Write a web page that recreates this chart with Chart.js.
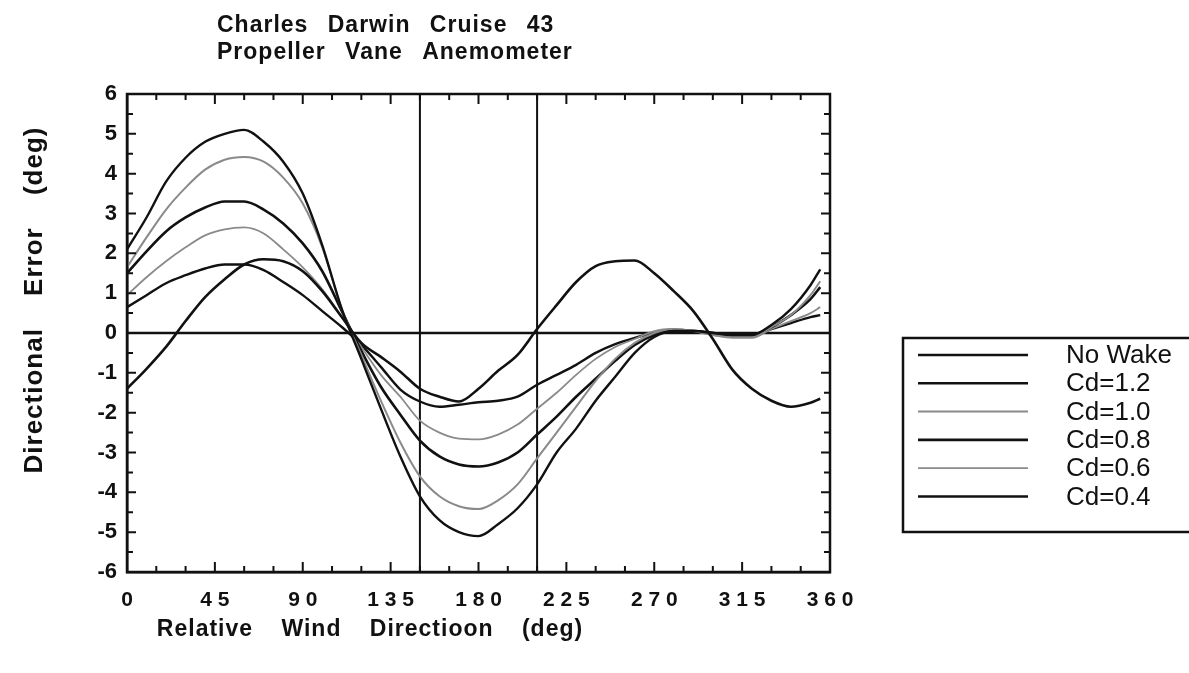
<!DOCTYPE html>
<html>
<head>
<meta charset="utf-8">
<script src="https://cdn.jsdelivr.net/npm/chart.js@4.4.1/dist/chart.umd.min.js"></script>
<style>
  html, body { margin: 0; padding: 0; background: #fff; }
</style>
</head>
<body>
<canvas id="chart" width="1189" height="673"></canvas>
<script>
// relative wind direction (deg)
const directions = [0, 10, 20, 30, 40, 50, 60, 70, 80, 90, 100, 110, 120, 130, 140, 150, 160, 170,
  180, 190, 200, 210, 220, 230, 240, 250, 260, 270, 280, 290, 300, 310, 320, 330, 340, 350, 355];

// directional error (deg)
const noWake = [-1.4, -0.9, -0.35, 0.3, 0.9, 1.35, 1.72, 1.85, 1.8, 1.55, 1.05, 0.4, -0.25, -0.6, -0.97, -1.4, -1.6, -1.72,
  -1.4, -0.95, -0.55, 0.1, 0.7, 1.28, 1.68, 1.8, 1.82, 1.5, 1.05, 0.55, -0.15, -0.92, -1.4, -1.7, -1.85, -1.75, -1.65];
const cd12 = [2.1, 2.9, 3.8, 4.4, 4.8, 5.0, 5.1, 4.8, 4.3, 3.5, 2.2, 0.6, -0.65, -1.9, -3.1, -4.1, -4.7, -5.0,
  -5.1, -4.8, -4.4, -3.8, -3.0, -2.4, -1.7, -1.1, -0.5, -0.1, 0.05, 0.05, 0.0, -0.05, -0.05, 0.2, 0.6, 1.2, 1.6];
const cd10 = [1.65, 2.4, 3.1, 3.65, 4.1, 4.35, 4.42, 4.3, 3.9, 3.25, 2.15, 0.6, -0.55, -1.7, -2.75, -3.6, -4.1, -4.35,
  -4.42, -4.2, -3.8, -3.15, -2.5, -1.85, -1.2, -0.65, -0.25, 0.0, 0.1, 0.05, -0.05, -0.1, -0.1, 0.15, 0.45, 0.95, 1.3];
const cd08 = [1.5, 2.05, 2.55, 2.9, 3.15, 3.3, 3.3, 3.1, 2.75, 2.25, 1.55, 0.55, -0.45, -1.35, -2.05, -2.7, -3.1, -3.3,
  -3.35, -3.25, -3.0, -2.55, -2.1, -1.6, -1.15, -0.7, -0.3, -0.05, 0.05, 0.05, 0.0, -0.05, -0.05, 0.15, 0.45, 0.85, 1.15];
const cd06 = [0.95, 1.4, 1.8, 2.15, 2.45, 2.6, 2.65, 2.5, 2.1, 1.65, 1.1, 0.4, -0.35, -1.05, -1.6, -2.2, -2.5, -2.65,
  -2.67, -2.55, -2.3, -1.9, -1.5, -1.05, -0.65, -0.35, -0.15, 0.05, 0.1, 0.05, -0.05, -0.12, -0.12, 0.1, 0.3, 0.5, 0.65];
const cd04 = [0.65, 0.95, 1.25, 1.45, 1.62, 1.72, 1.72, 1.58, 1.28, 0.95, 0.55, 0.15, -0.3, -0.85, -1.42, -1.72, -1.85, -1.8,
  -1.74, -1.7, -1.6, -1.3, -1.05, -0.8, -0.5, -0.28, -0.12, 0.0, 0.05, 0.05, 0.0, -0.05, -0.05, 0.1, 0.25, 0.4, 0.45];

const seriesNames = ['No Wake', 'Cd=1.2', 'Cd=1.0', 'Cd=0.8', 'Cd=0.6', 'Cd=0.4'];
const seriesValues = [noWake, cd12, cd10, cd08, cd06, cd04];
const seriesColors = ['#111', '#111', '#8a8a8a', '#111', '#8a8a8a', '#111'];
const seriesWidths = [2.6, 2.4, 2, 2.6, 1.8, 2.4];

const xLabelStep = 45;          // labelled ticks
const sectorLines = [150, 210]; // wake sector limits

const titleLines = ['Charles Darwin Cruise 43', 'Propeller Vane Anemometer'];
const xTitle = 'Relative Wind Directioon (deg)';
const yTitle = 'Directional Error (deg)';

const FONT = "'Liberation Sans', Arial, Helvetica, sans-serif";

const datasets = seriesNames.map((name, i) => ({
  label: name,
  data: directions.map((d, j) => ({ x: d, y: seriesValues[i][j] })),
  borderColor: seriesColors[i],
  borderWidth: seriesWidths[i],
  pointRadius: 0,
  fill: false,
  cubicInterpolationMode: 'monotone'
}));

function spacedText(ctx, text, x, y, letter, word) {
  ctx.letterSpacing = letter;
  ctx.wordSpacing = word;
  ctx.fillText(text, x, y);
  ctx.letterSpacing = '0px';
  ctx.wordSpacing = '0px';
}

// guides, inward ticks, frame, titles and the boxed legend
const framePlugin = {
  id: 'frame',
  beforeDatasetsDraw(chart) {
    const { ctx, chartArea: a, scales: { x, y } } = chart;
    ctx.save();
    ctx.strokeStyle = '#111';
    ctx.lineWidth = 2.5;
    ctx.beginPath();
    ctx.moveTo(a.left, y.getPixelForValue(0));
    ctx.lineTo(a.right, y.getPixelForValue(0));
    ctx.stroke();
    ctx.lineWidth = 2;
    sectorLines.forEach(v => {
      const px = x.getPixelForValue(v);
      ctx.beginPath();
      ctx.moveTo(px, a.top);
      ctx.lineTo(px, a.bottom);
      ctx.stroke();
    });
    ctx.restore();
  },
  afterDraw(chart) {
    const { ctx, chartArea: a, scales: { x, y } } = chart;
    ctx.save();
    ctx.strokeStyle = '#111';
    ctx.lineWidth = 2.5;
    ctx.strokeRect(a.left, a.top, a.right - a.left, a.bottom - a.top);

    ctx.lineWidth = 2;
    for (let v = 15; v < 360; v += 15) {
      const px = x.getPixelForValue(v);
      const len = v % xLabelStep === 0 ? 10 : 6;
      ctx.beginPath();
      ctx.moveTo(px, a.bottom); ctx.lineTo(px, a.bottom - len);
      ctx.moveTo(px, a.top); ctx.lineTo(px, a.top + len);
      ctx.stroke();
    }
    for (let v = -5.5; v < 6; v += 0.5) {
      const py = y.getPixelForValue(v);
      const len = Number.isInteger(v) ? 9 : 6;
      ctx.beginPath();
      ctx.moveTo(a.left, py); ctx.lineTo(a.left + len, py);
      ctx.moveTo(a.right, py); ctx.lineTo(a.right - len, py);
      ctx.stroke();
    }

    // titles
    ctx.fillStyle = '#111';
    ctx.font = 'bold 23px ' + FONT;
    ctx.textBaseline = 'middle';
    ctx.textAlign = 'left';
    spacedText(ctx, titleLines[0], 217, 26, '1px', '12px');
    spacedText(ctx, titleLines[1], 217, 53, '1px', '12px');

    ctx.textAlign = 'center';
    spacedText(ctx, xTitle, 370, 630, '1px', '21px');

    ctx.save();
    ctx.font = 'bold 26px ' + FONT;
    ctx.translate(35, 300);
    ctx.rotate(-Math.PI / 2);
    spacedText(ctx, yTitle, 0, 0, '1px', '24px');
    ctx.restore();

    // legend
    const box = { left: 903, top: 338, bottom: 532 };
    ctx.lineWidth = 2.5;
    ctx.strokeRect(box.left, box.top, chart.width + 10 - box.left, box.bottom - box.top);
    ctx.font = '26px ' + FONT;
    ctx.textAlign = 'left';
    chart.data.datasets.forEach((ds, i) => {
      const ly = box.top + 17 + i * 28.3;
      ctx.strokeStyle = ds.borderColor;
      ctx.lineWidth = ds.borderWidth;
      ctx.beginPath();
      ctx.moveTo(918, ly);
      ctx.lineTo(1028, ly);
      ctx.stroke();
      ctx.fillStyle = '#111';
      ctx.fillText(ds.label, 1066, ly + 1);
    });
    ctx.restore();
  }
};

new Chart(document.getElementById('chart').getContext('2d'), {
  type: 'line',
  data: { datasets },
  options: {
    responsive: false,
    animation: false,
    layout: { padding: { top: 94, right: 359, left: 0, bottom: 0 } },
    plugins: { legend: { display: false }, tooltip: { enabled: false }, title: { display: false } },
    scales: {
      x: {
        type: 'linear',
        min: 0,
        max: 360,
        afterFit: s => { s.height = 101; },
        grid: { display: false, drawTicks: false },
        border: { display: true, color: '#111', width: 2.5 },
        ticks: {
          stepSize: 15,
          autoSkip: false,
          maxRotation: 0,
          padding: 16,
          color: '#111',
          font: { family: FONT, size: 21, weight: 'bold' },
          callback: v => (v % xLabelStep === 0 ? String(v).split('').join(' ') : '')
        }
      },
      y: {
        min: -6,
        max: 6,
        afterFit: s => { s.width = 127; },
        grid: { display: false, drawTicks: false },
        border: { display: true, color: '#111', width: 2.5 },
        ticks: {
          stepSize: 1,
          padding: 10,
          color: '#111',
          font: { family: FONT, size: 22, weight: 'bold' }
        }
      }
    }
  },
  plugins: [framePlugin]
});
</script>
</body>
</html>
